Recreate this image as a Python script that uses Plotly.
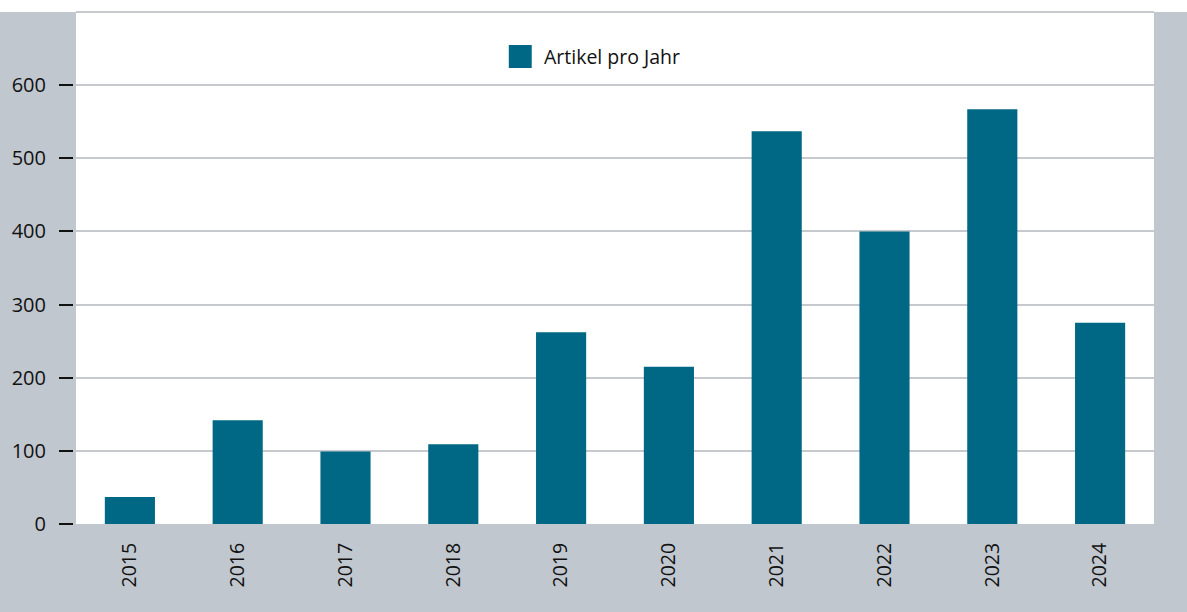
import plotly.graph_objects as go

years = ["2015", "2016", "2017", "2018", "2019", "2020", "2021", "2022", "2023", "2024"]
articles = [37, 142, 99, 109, 262, 215, 537, 400, 567, 275]
series_name = "Artikel pro Jahr"
y_ticks = [0, 100, 200, 300, 400, 500, 600]

BAR = "#006885"
GRAY_BG = "#c0c7ce"
GRID = "#c6c9cd"
FONT = "Open Sans"

W, H = 1187, 612
ML, MR, MT, MB = 70, 33, 12, 88
PW = W - ML - MR
PH = H - MT - MB

def px(x):
    return (x - ML) / PW

def py(y):
    return (H - MB - y) / PH

fig = go.Figure()
fig.add_trace(go.Bar(x=years, y=articles, name=series_name, marker_color=BAR,
                     marker_line_width=0, showlegend=False))

fig.update_layout(
    width=W, height=H,
    margin=dict(l=ML, r=MR, t=MT, b=MB),
    paper_bgcolor=GRAY_BG,
    plot_bgcolor="white",
    bargap=0.535,
    font=dict(family=FONT, size=20, color="#111111"),
    xaxis=dict(domain=[3 / PW, 1], type="category", tickangle=-90,
               showgrid=False, showline=False, zeroline=False, ticks="",
               ticklabelstandoff=14, tickfont=dict(size=19.5, color="#111111")),
    yaxis=dict(anchor="free", position=0, range=[0, 700], tickvals=y_ticks,
               ticks="outside", ticklen=14, tickwidth=2, tickcolor="#111111",
               showgrid=True, gridcolor=GRID, gridwidth=2, zeroline=False,
               showline=False, ticklabelstandoff=9,
               tickfont=dict(size=20, color="#111111")),
    shapes=[
        dict(type="rect", xref="paper", yref="paper", x0=-1, x1=2, y0=1, y1=2,
             fillcolor="white", line_width=0, layer="below"),
        dict(type="line", xref="paper", yref="paper", x0=3 / PW, x1=1, y0=1, y1=1,
             line=dict(color=GRID, width=2), layer="above"),
        dict(type="rect", xref="paper", yref="paper", x0=px(507), x1=px(530),
             y0=py(68), y1=py(45), fillcolor=BAR, line_width=0),
    ],
    annotations=[
        dict(text=series_name, xref="paper", yref="paper", x=px(540), y=py(56.5),
             xanchor="left", yanchor="middle", showarrow=False,
             font=dict(size=19.5, color="#111111", family=FONT)),
    ],
)

fig.write_html("out.html", config={"displayModeBar": False},
               post_script="document.body.style.margin='0';")
